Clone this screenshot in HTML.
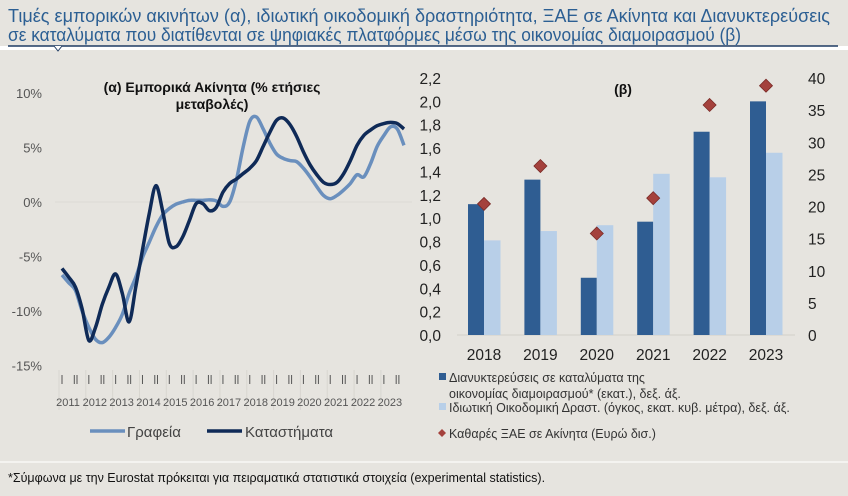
<!DOCTYPE html>
<html><head><meta charset="utf-8"><style>
body{margin:0;background:#e6e4df;}
svg{display:block;font-family:"Liberation Sans",sans-serif;}
</style></head><body>
<svg id="c" width="848" height="496" viewBox="0 0 848 496" xmlns="http://www.w3.org/2000/svg">
<rect width="848" height="496" fill="#e6e4df"/>
<text x="8" y="22" font-size="18" fill="#2c5f93" textLength="822" lengthAdjust="spacingAndGlyphs" font-family="Liberation Sans Narrow, Liberation Sans, sans-serif">Τιμές εμπορικών ακινήτων (α), ιδιωτική οικοδομική δραστηριότητα, ΞΑΕ σε Ακίνητα και Διανυκτερεύσεις</text>
<text x="8" y="41" font-size="18" fill="#2c5f93" textLength="733" lengthAdjust="spacingAndGlyphs" font-family="Liberation Sans Narrow, Liberation Sans, sans-serif">σε καταλύματα που διατίθενται σε ψηφιακές πλατφόρμες μέσω της οικονομίας διαμοιρασμού (β)</text>
<rect x="0" y="46" width="848" height="4" fill="#ffffff"/>
<line x1="8" y1="46" x2="838" y2="46" stroke="#1f3b63" stroke-width="1.5"/>
<path d="M54 46 L58 51 L62 46" fill="#ffffff" stroke="#1f3b63" stroke-width="1"/>
<rect x="0" y="461" width="848" height="2" fill="#f4f3f0"/>
<text x="8" y="482" font-size="12.5" fill="#111">*Σύμφωνα με την Eurostat πρόκειται για πειραματικά στατιστικά στοιχεία (experimental statistics).</text>
<g id="left"></g>
<g id="right"></g>
</svg>
<script>
const NS="http://www.w3.org/2000/svg";
function mk(p,tag,attrs,txt){const e=document.createElementNS(NS,tag);for(const k in attrs)e.setAttribute(k,attrs[k]);if(txt!==undefined)e.textContent=txt;p.appendChild(e);return e;}

// ---- Chart (a) data ----
const years=["2011","2012","2013","2014","2015","2016","2017","2018","2019","2020","2021","2022","2023"];
const yTicksA=[10,5,0,-5,-10,-15];
const offices=[-6.7,-7.4,-8.1,-10,-11.5,-12.6,-12.9,-12.4,-11.5,-10.3,-8.4,-6.9,-5.1,-3.7,-2.3,-1.2,-0.6,-0.2,0,0.15,0.15,0.15,0.2,0.1,-0.4,0,2,5,7.4,7.8,6.7,5.4,4.4,4,3.8,3.7,3.1,2.3,1.4,0.6,0.3,0.6,1.1,1.7,2.5,2.3,3.5,5.1,6.1,6.9,6.7,5.2];
const shops=[-6.1,-6.9,-7.8,-9.8,-12.7,-11.5,-9.4,-7.8,-6.6,-8.4,-11,-7.8,-4.4,-1.1,1.5,-0.8,-3.8,-4.1,-3.2,-1.7,-0.15,-0.15,-0.8,-0.5,0.9,1.7,2.1,2.6,3.1,3.8,5.1,6.4,7.5,7.7,7.1,6,4.6,3.4,2.5,1.8,1.6,1.8,2.6,3.8,5.2,6.1,6.6,7,7.2,7.3,7.2,6.7];

// ---- Chart (b) data ----
const cats=["2018","2019","2020","2021","2022","2023"];
const nights=[1.12,1.33,0.49,0.97,1.74,2.0];
const construction=[0.81,0.89,0.94,1.38,1.35,1.56];
const fdi=[20.4,26.3,15.8,21.3,35.8,38.8];
const yTicksL=["0,0","0,2","0,4","0,6","0,8","1,0","1,2","1,4","1,6","1,8","2,0","2,2"];
const yTicksR=[0,5,10,15,20,25,30,35,40];

// ---- Chart (a) ----
const L=document.getElementById('left');
const ya=v=>202-v*10.9;
const x0=62,x1=404;
const xa=i=>x0+i*(x1-x0)/51;
yTicksA.forEach(t=>{
  const e=mk(L,'text',{x:42,y:ya(t)+5,'font-size':13,fill:'#555','text-anchor':'end'},t+'%');
  
  
});
const zl=mk(L,'line',{x1:55,x2:412,y1:ya(0),y2:ya(0),stroke:'#dcdad4','stroke-width':1});


years.forEach((y,k)=>{
  const bx=xa(k*4);
  [0,12.3,15].forEach(o=>{
    const t=mk(L,'line',{x1:bx+o,x2:bx+o,y1:375,y2:384,stroke:'#555','stroke-width':1});
    
    
  });
  const g=mk(L,'line',{x1:bx-3,x2:bx-3,y1:370,y2:410,stroke:'#d8d6d0','stroke-width':1});
  
  
  const e=mk(L,'text',{x:bx+6,y:406,'font-size':11,fill:'#555','text-anchor':'middle'},y);
  
  
});
function smooth(vals,fx,fy){
  const p=vals.map((v,i)=>[fx(i),fy(v)]);
  let d='M'+p[0][0]+' '+p[0][1];
  for(let i=0;i<p.length-1;i++){
    const a=p[Math.max(0,i-1)],b=p[i],c=p[i+1],e=p[Math.min(p.length-1,i+2)];
    const c1=[b[0]+(c[0]-a[0])/6,b[1]+(c[1]-a[1])/6],c2=[c[0]-(e[0]-b[0])/6,c[1]-(e[1]-b[1])/6];
    d+=` C${c1[0]} ${c1[1]} ${c2[0]} ${c2[1]} ${c[0]} ${c[1]}`;
  }
  return d;
}
const lo=mk(L,'path',{d:smooth(offices,xa,ya),fill:'none',stroke:'#6a8fbd','stroke-width':3.5,'stroke-linejoin':'round'});


const ls=mk(L,'path',{d:smooth(shops,xa,ya),fill:'none',stroke:'#0f2a57','stroke-width':3.5,'stroke-linejoin':'round'});


const ta=mk(L,'text',{x:212,y:92,'font-size':14,'font-weight':'bold',fill:'#111','text-anchor':'middle'},'(α) Εμπορικά Ακίνητα (% ετήσιες');


const tb=mk(L,'text',{x:212,y:109,'font-size':14,'font-weight':'bold',fill:'#111','text-anchor':'middle'},'μεταβολές)');


const le1=mk(L,'line',{x1:90,x2:125,y1:431,y2:431,stroke:'#6a8fbd','stroke-width':3.5});


const lt1=mk(L,'text',{x:127,y:437,'font-size':15,fill:'#444'},'Γραφεία');


const le2=mk(L,'line',{x1:207,x2:242,y1:431,y2:431,stroke:'#0f2a57','stroke-width':3.5});


const lt2=mk(L,'text',{x:245,y:437,'font-size':15,fill:'#444'},'Καταστήματα');



// ---- Chart (b) ----
const R=document.getElementById('right');
const yl=v=>335-v/2.2*257;
const yr=v=>335-v/40*257;
const xc=i=>484+i*56.4;
yTicksL.forEach((t,i)=>{
  const e=mk(R,'text',{x:441,y:yl(i*0.2)+6,'font-size':15.5,fill:'#222','text-anchor':'end'},t);
  
  
});
yTicksR.forEach(t=>{
  const e=mk(R,'text',{x:808,y:yr(t)+6,'font-size':15.5,fill:'#222'},String(t));
  
  
});
const ax=mk(R,'line',{x1:457,x2:795,y1:335,y2:335,stroke:'#d2d0ca','stroke-width':1});


cats.forEach((c,i)=>{
  const b1=mk(R,'rect',{x:xc(i)-16,y:yl(nights[i]),width:16,height:335-yl(nights[i]),fill:'#2f5d92'});
  
  
  const b2=mk(R,'rect',{x:xc(i),y:yl(construction[i]),width:16.5,height:335-yl(construction[i]),fill:'#b8cfe8'});
  
  
  const cy=yr(fdi[i]),cx=xc(i);
  const d=mk(R,'path',{d:`M${cx} ${cy-6.5} L${cx+6.5} ${cy} L${cx} ${cy+6.5} L${cx-6.5} ${cy} Z`,fill:'#a4413c',stroke:'#7a2a26','stroke-width':0.8});
  
  
  const t=mk(R,'text',{x:xc(i),y:360,'font-size':15.5,fill:'#222','text-anchor':'middle'},c);
  
  
});
const tbb=mk(R,'text',{x:623,y:94,'font-size':14,'font-weight':'bold',fill:'#111','text-anchor':'middle'},'(β)');


const s1=mk(R,'rect',{x:439,y:373,width:7,height:7,fill:'#2f5d92'});


const l1=mk(R,'text',{x:449,y:382,'font-size':12.5,fill:'#333'},'Διανυκτερεύσεις σε καταλύματα της');


const l1b=mk(R,'text',{x:449,y:398,'font-size':12.5,fill:'#333'},'οικονομίας διαμοιρασμού* (εκατ.), δεξ. άξ.');


const s2=mk(R,'rect',{x:439,y:403,width:7,height:7,fill:'#b8cfe8'});


const l2=mk(R,'text',{x:449,y:412,'font-size':12.5,fill:'#333'},'Ιδιωτική Οικοδομική Δραστ. (όγκος, εκατ. κυβ. μέτρα), δεξ. άξ.');


const s3=mk(R,'path',{d:'M442 429 L446 433 L442 437 L438 433 Z',fill:'#a4413c'});


const l3=mk(R,'text',{x:449,y:438,'font-size':12.5,fill:'#333'},'Καθαρές ΞΑΕ σε Ακίνητα (Ευρώ δισ.)');


</script>
</body></html>
